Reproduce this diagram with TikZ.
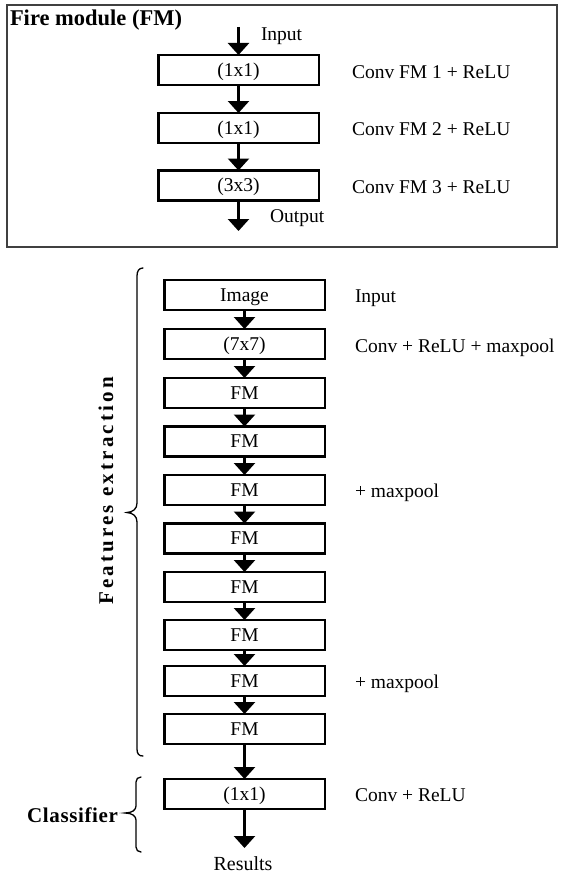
\documentclass[tikz,border=0pt]{standalone}
\usepackage{fontspec}
\setmainfont{Liberation Serif}
\newfontfamily\widespaced[LetterSpace=15]{Liberation Serif}
\newfontfamily\narrowspaced[LetterSpace=3]{Liberation Serif}
\usetikzlibrary{arrows.meta}

\begin{document}
\begin{tikzpicture}[x=1pt,y=-1pt,
  every node/.style={inner sep=0pt, outer sep=0pt},
  blk/.style={draw, line width=2.5pt, minimum width=160.5pt, minimum height=30pt,
              text height=12.5pt, text depth=0pt, font=\fontsize{19.5}{22}\selectfont},
  arr/.style={line width=2.5pt, -{Triangle[width=21pt,length=12pt]}},
  lbl/.style={anchor=base west, font=\fontsize{19.5}{22}\selectfont},
  brc/.style={line width=1.3pt, line cap=round}
]
\useasboundingbox (0,0) rectangle (562,875);

% ---------- Fire module ----------
\draw[line width=1.2pt, black!75] (7,5) rectangle (557,247);
\node[anchor=base west, font=\fontsize{22.5}{26}\selectfont\bfseries] (title) at (10,26) {Fire module (FM)};

\node[blk] (t1) at (238.5,70)    {(1x1)};
\node[blk] (t2) at (238.5,128)   {(1x1)};
\node[blk] (t3) at (238.5,185.5) {(3x3)};

\coordinate (tin)  at (238.5,27);
\coordinate (tout) at (238.5,231);
\draw[arr] (tin) -- (t1);
\draw[arr] (t1) -- (t2);
\draw[arr] (t2) -- (t3);
\draw[arr] (t3) -- (tout);

\node[lbl] (lin)  at (261,41)    {Input};
\node[lbl] (lout) at (270,222)   {Output};
\node[lbl] (l1)   at (352,78.5)  {Conv FM 1 + ReLU};
\node[lbl] (l2)   at (352,135.5) {Conv FM 2 + ReLU};
\node[lbl] (l3)   at (352,193)   {Conv FM 3 + ReLU};

% ---------- Network ----------
\node[blk] (b0) at (244.5,295)   {Image};
\node[blk] (b1) at (244.5,344)   {(7x7)};
\node[blk] (b2) at (244.5,393)   {FM};
\node[blk] (b3) at (244.5,441.5) {FM};
\node[blk] (b4) at (244.5,490)   {FM};
\node[blk] (b5) at (244.5,538.5) {FM};
\node[blk] (b6) at (244.5,587)   {FM};
\node[blk] (b7) at (244.5,635)   {FM};
\node[blk] (b8) at (244.5,681)   {FM};
\node[blk] (b9) at (244.5,729)   {FM};
\node[blk] (cls) at (244.5,794)  {(1x1)};

\foreach \a/\b in {0/1,1/2,2/3,3/4,4/5,5/6,6/7,7/8,8/9}
  \draw[arr] (b\a) -- (b\b);
\draw[arr] (b9) -- (cls);
\coordinate (res) at (244.5,848);
\draw[arr] (cls) -- (res);
\node[anchor=base, font=\fontsize{20}{24}\selectfont] (results) at (243,870) {Results};

\node[lbl] (m0) at (355,302) {Input};
\node[lbl] (m1) at (355,352) {Conv + ReLU + maxpool};
\node[lbl] (m4) at (355,497) {+ maxpool};
\node[lbl] (m8) at (355,688) {+ maxpool};
\node[lbl] (mc) at (355,801) {Conv + ReLU};

% ---------- Braces ----------
\draw[brc] (143,268) .. controls (139,268) and (137,271) .. (137,276)
  -- (137,503) .. controls (137,509) and (133,512) .. (127,512.5)
  .. controls (133,513) and (137,516) .. (137,522)
  -- (137,749) .. controls (137,754) and (139,756) .. (143,756);
\draw[brc] (141,777) .. controls (138,777) and (136,779) .. (136,782)
  -- (136,806) .. controls (136,810) and (132,813) .. (125,813)
  .. controls (132,813) and (136,816) .. (136,820)
  -- (136,847) .. controls (136,850) and (138,852) .. (141,852);

\node[rotate=90, font=\widespaced\fontsize{21}{24}\selectfont\bfseries] (feat) at (106,491) {Features extraction};
\node[anchor=east, text height=14pt, text depth=0pt, font=\narrowspaced\fontsize{21}{24}\selectfont\bfseries] (clsl) at (118,815) {Classifier};
\end{tikzpicture}
\end{document}
